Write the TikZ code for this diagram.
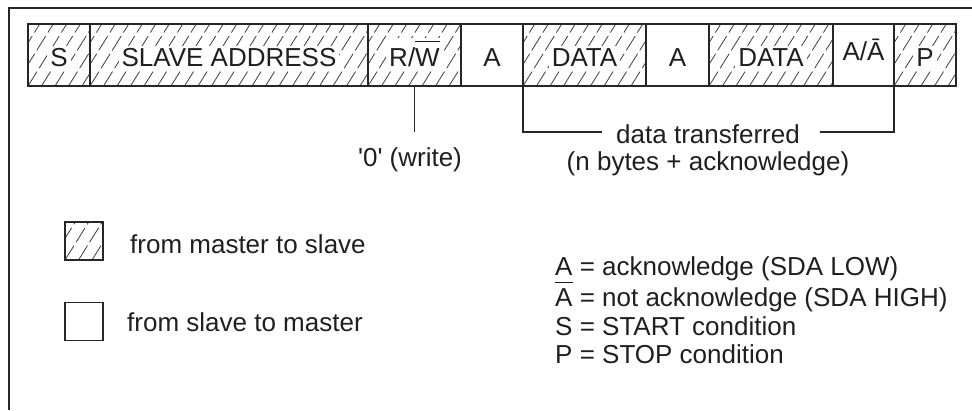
\documentclass[tikz,border=0pt]{standalone}
\usepackage{fontspec}
\setmainfont{Liberation Sans}
\newcommand\ovbar[2]{\setbox0\hbox{#2}\rlap{\rule[#1]{\wd0}{1.2pt}}\box0\relax}
\newcommand\ko[1]{{\setlength\fboxsep{3pt}\colorbox{white}{#1}}}
\begin{document}
\begin{tikzpicture}[x=1pt,y=-1pt,
  txt/.style={font=\fontsize{26pt}{30pt}\selectfont, text=black!88, inner sep=0pt},
  seg/.style={txt, draw=black!85, line width=1.3pt, minimum height=62pt, inner sep=0pt, outer sep=0pt, anchor=west, text height=23.4pt, text depth=0pt},
  legbox/.style={draw=black!85, line width=1.3pt, minimum size=38pt, inner sep=0pt},
  hatchline/.style={black!75, line width=0.8pt, dash pattern=on 17pt off 4pt},
  hatch/.style={path picture={\foreach \k in {-4,...,24}{\draw[hatchline] ([xshift=\k*13.5pt]path picture bounding box.south west) -- ++(58:80pt);}}},
  conn/.style={draw=black!85, line width=1.3pt},
]
\useasboundingbox (0,0) rectangle (972,410);
\draw[line width=1.6pt, black!85] (9,410) -- (9,8) -- (972,8);

\node[seg,hatch,minimum width=62pt] (s) at (28,55) {\ko{S}};
\node[seg,hatch,minimum width=278pt] (addr) at (s.east) {\ko{SLAVE ADDRESS}};
\node[seg,hatch,minimum width=93pt] (rw) at (addr.east) {\ko{R/\ovbar{24.5pt}{W}}};
\node[seg,minimum width=62pt] (a1) at (rw.east) {A};
\node[seg,hatch,minimum width=123pt] (d1) at (a1.east) {\ko{DATA}};
\node[seg,minimum width=63pt] (a2) at (d1.east) {A};
\node[seg,hatch,minimum width=124pt] (d2) at (a2.east) {\ko{DATA}};
\node[seg,minimum width=61pt,text height=11.4pt] (aa) at (d2.east) {A/Ā};
\node[seg,hatch,minimum width=62pt] (p) at (aa.east) {\ko{P}};

\coordinate (lvl) at (0,132);
\coordinate (dtl) at (602,132);
\coordinate (dtr) at (820,132);
\draw[conn] (rw.south) -- (rw.south |- lvl);
\node[txt,anchor=base] (wr) at (410,166) {\textquotesingle 0\textquotesingle\ (write)};
\node[txt,anchor=base] (dt) at (708,143.3) {data transferred};
\node[txt,anchor=base] (nb) at (708,170) {(n bytes + acknowledge)};
\draw[conn] (d1.south west) |- (dtl);
\draw[conn] (aa.south east) |- (dtr);

\node[legbox,hatch] (lh) at (84,241) {};
\node[legbox] (lw) at (84,321.5) {};
\node[txt,anchor=base west] (lht) at (130,253) {from master to slave};
\node[txt,anchor=base west] (lwt) at (127,331.7) {from slave to master};

\node[txt,anchor=base west] (l1) at (555,275) {A = acknowledge (SDA LOW)};
\node[txt,anchor=base west] (l2) at (555,306) {\ovbar{23pt}{A} = not acknowledge (SDA HIGH)};
\node[txt,anchor=base west] (l3) at (555,335) {S = START condition};
\node[txt,anchor=base west] (l4) at (555,363.5) {P = STOP condition};
\end{tikzpicture}
\end{document}
